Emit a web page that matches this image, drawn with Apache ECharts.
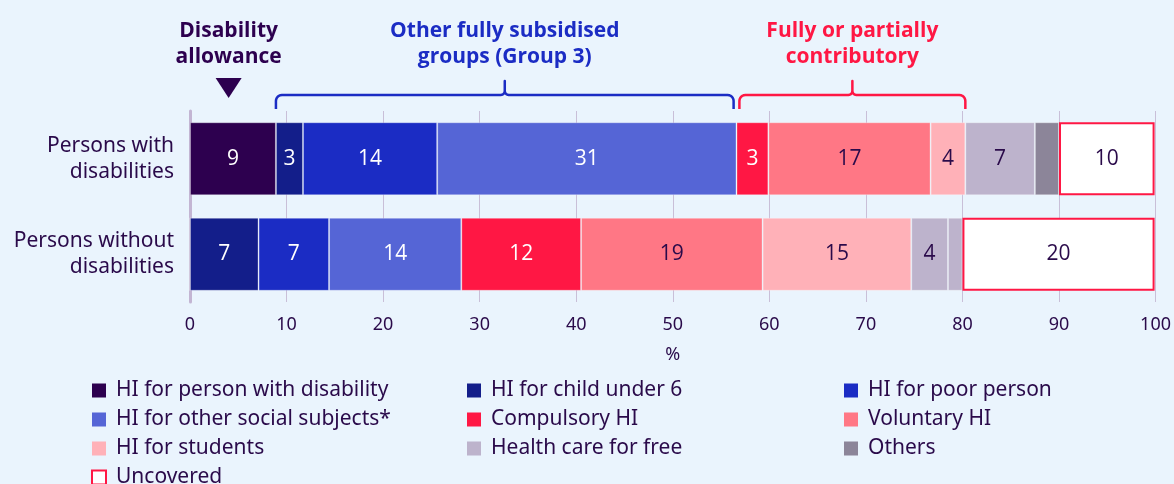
<!DOCTYPE html>
<html>
<head>
<meta charset="utf-8">
<script src="https://cdn.jsdelivr.net/npm/echarts@6/dist/echarts.min.js"></script>
<style>
  html, body { margin: 0; padding: 0; background: #eaf4fd; }
  #chart { width: 1174px; height: 484px; }
</style>
</head>
<body>
<div id="chart"></div>
<script>
// rows, top to bottom
const groups = ['Persons with\ndisabilities', 'Persons without\ndisabilities'];

const seriesNames = [
  'HI for person with disability',
  'HI for child under 6',
  'HI for poor person',
  'HI for other social subjects*',
  'Compulsory HI',
  'Voluntary HI',
  'HI for students',
  'Health care for free',
  'Others',
  'Uncovered'
];

// shares in %, one array per row (same order as seriesNames)
const withDisab    = [8.9, 2.8, 13.9, 31.0, 3.3, 16.8, 3.6, 7.2, 2.5, 9.9];
const withoutDisab = [0,   7.1, 7.3, 13.7, 12.4, 18.8, 15.4, 3.8, 1.5, 19.9];

const xTicks = [0, 10, 20, 30, 40, 50, 60, 70, 80, 90, 100];

const colors = ['#2d004f', '#131e8a', '#1b2cc4', '#5565d6', '#ff1744',
                '#ff7785', '#ffb1b8', '#bdb3cc', '#8c8599', '#ffffff'];
const darkText = '#2a0a4a';
const whiteLabel = [true, true, true, true, true, false, false, false, false, false];

// annotation ranges (in % on the x axis)
const allowanceAt = 4.0;
const group3Range = [8.9, 56.3];
const contribRange = [56.9, 80.3];

const chart = echarts.init(document.getElementById('chart'));

const series = seriesNames.map((name, i) => {
  const isUncovered = name === 'Uncovered';
  return {
    name: name,
    type: 'bar',
    stack: 'total',
    barWidth: 73,
    data: [withDisab[i], withoutDisab[i]].map((v, r) => {
      const d = {value: v};
      // the small "others" bit in the second row is drawn in the lavender shade
      if (name === 'Others' && r === 1) d.itemStyle = {color: colors[7]};
      return d;
    }),
    itemStyle: isUncovered
      ? {color: '#ffffff', borderColor: '#ff1744', borderWidth: 2}
      : {color: colors[i], borderColor: 'rgba(255,255,255,0.3)', borderWidth: 1},
    label: {
      show: name !== 'Others',
      position: 'inside',
      fontFamily: 'Open Sans',
      fontSize: 21,
      color: whiteLabel[i] ? '#ffffff' : darkText,
      formatter: p => (p.value > 0 ? Math.round(p.value) : '')
    },
    emphasis: {disabled: true}
  };
});

const legendCols = [
  [0, 3, 6, 9],
  [1, 4, 7],
  [2, 5, 8]
];
const legendLeft = [86, 462, 839];

const legends = legendCols.map((col, k) => ({
  orient: 'vertical',
  left: legendLeft[k],
  top: 375,
  height: 140,
  itemWidth: 14,
  itemHeight: 14,
  itemGap: 8,
  icon: 'rect',
  selectedMode: false,
  textStyle: {fontFamily: 'Noto Sans', fontSize: 21, color: darkText, padding: [0, 0, 0, 5]},
  itemStyle: {borderWidth: 0},
  data: col.map(i => seriesNames[i] === 'Uncovered'
    ? {name: seriesNames[i], itemStyle: {color: '#ffffff', borderColor: '#ff1744', borderWidth: 2}}
    : {name: seriesNames[i]})
}));

const option = {
  backgroundColor: '#eaf4fd',
  animation: false,
  grid: {left: 190, right: 15, top: 111, bottom: 182},
  legend: legends,
  xAxis: {
    type: 'value',
    min: xTicks[0],
    max: xTicks[xTicks.length - 1],
    interval: 10,
    name: '%',
    nameLocation: 'middle',
    nameGap: 44,
    nameTextStyle: {fontFamily: 'Noto Sans', fontSize: 18, color: darkText},
    axisLine: {show: false},
    axisTick: {show: false},
    axisLabel: {fontFamily: 'Noto Sans', fontSize: 18, color: darkText, margin: 14},
    splitLine: {show: true, lineStyle: {color: '#c9bfd8', width: 1}}
  },
  yAxis: {
    type: 'category',
    inverse: true,
    data: groups,
    axisLine: {show: true, lineStyle: {color: '#c3b5d3', width: 3}},
    axisTick: {show: false},
    axisLabel: {fontFamily: 'Noto Sans', fontSize: 21, lineHeight: 26, color: darkText, margin: 16, align: 'right'}
  },
  series: series
};
chart.setOption(option);

// braces and titles above the first bar, placed through the x scale
const px = v => chart.convertToPixel({xAxisIndex: 0}, v);

function arcPts(cx, cy, r, a0, a1) {
  const pts = [];
  for (let k = 0; k <= 6; k++) {
    const a = a0 + (a1 - a0) * k / 6;
    pts.push([cx + r * Math.cos(a), cy + r * Math.sin(a)]);
  }
  return pts;
}

function brace(x0, x1, color) {
  const y = 95, r = 6, xm = (x0 + x1) / 2, h = 14, t = 4;
  const pts = [[x0, y + h]]
    .concat(arcPts(x0 + r, y + r, r, Math.PI, 1.5 * Math.PI))
    .concat(arcPts(xm - t, y - t, t, 0.5 * Math.PI, 0))
    .concat([[xm, y - h]])
    .concat(arcPts(xm + t, y - t, t, Math.PI, 0.5 * Math.PI))
    .concat(arcPts(x1 - r, y + r, r, 1.5 * Math.PI, 2 * Math.PI))
    .concat([[x1, y + h]]);
  return {
    type: 'polyline',
    shape: {points: pts},
    style: {stroke: color, lineWidth: 2.5, fill: null, lineJoin: 'round'}
  };
}

function title(x, text, color) {
  return {
    type: 'text',
    x: x,
    y: 18,
    style: {
      text: text,
      fill: color,
      font: 'bold 21px "Open Sans"',
      lineHeight: 26,
      align: 'center',
      verticalAlign: 'top'
    }
  };
}

const ax = px(allowanceAt);
const g0 = px(group3Range[0]), g1 = px(group3Range[1]);
const c0 = px(contribRange[0]), c1 = px(contribRange[1]);

chart.setOption({
  graphic: [
    title(ax, 'Disability\nallowance', '#2d004f'),
    {
      type: 'polygon',
      shape: {points: [[ax - 13, 78], [ax + 13, 78], [ax, 98]]},
      style: {fill: '#2d004f'}
    },
    brace(g0, g1, '#1b2cc4'),
    title((g0 + g1) / 2, 'Other fully subsidised\ngroups (Group 3)', '#1b2cc4'),
    brace(c0, c1, '#ff1744'),
    title((c0 + c1) / 2, 'Fully or partially\ncontributory', '#ff1744')
  ]
});
</script>
</body>
</html>
